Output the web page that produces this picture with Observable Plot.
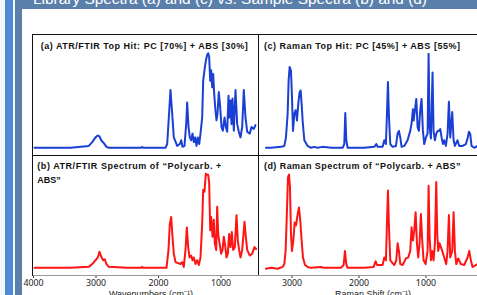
<!DOCTYPE html>
<html>
<head>
<meta charset="utf-8">
<script src="https://cdn.jsdelivr.net/npm/d3@7"></script>
<script src="https://cdn.jsdelivr.net/npm/@observablehq/plot@0.6"></script>
<style>
  html, body { margin:0; padding:0; background:#fff; }
  #wrap { position:relative; width:477px; height:295px; overflow:hidden; background:#f3f6fb; font-family:"Liberation Sans", Arial, Helvetica, sans-serif; }
  .abs { position:absolute; }
  svg { position:absolute; overflow:visible; }
</style>
</head>
<body>
<div id="wrap"></div>
<script>
// ---- data: [wavenumber (cm-1), relative intensity] ----
const ftirTopHit = [[3984,0],[3675,0],[3408,0],[3115,0.02],[3061,0.06],[3008,0.11],[2971,0.13],[2944,0.12],[2917,0.08],[2875,0.05],[2832,0.01],[2795,0],[2501,0],[2277,0],[2261,0.01],[2245,0],[1888,0],[1861,0.04],[1835,0.32],[1808,0.61],[1781,0.36],[1755,0.11],[1701,0.02],[1659,0.04],[1637,0.08],[1616,0.01],[1584,0.02],[1557,0.25],[1541,0.48],[1520,0.22],[1499,0.11],[1477,0.08],[1456,0.15],[1435,0.06],[1413,0.11],[1392,0.02],[1371,0.11],[1349,0.04],[1328,0.15],[1301,0.32],[1285,0.71],[1264,0.82],[1243,0.92],[1221,0.98],[1205,1.0],[1189,0.96],[1173,0.71],[1157,0.82],[1141,0.64],[1125,0.78],[1109,0.57],[1088,0.39],[1072,0.29],[1056,0.36],[1035,0.59],[1013,0.43],[992,0.22],[971,0.18],[944,0.32],[923,0.22],[901,0.17],[880,0.55],[864,0.32],[848,0.50],[832,0.25],[816,0.52],[795,0.18],[768,0.61],[741,0.25],[715,0.17],[688,0.11],[661,0.22],[635,0.61],[608,0.32],[581,0.17],[539,0.15],[512,0.22],[475,0.20],[448,0.24]];
const ftirSample = [[3984,0],[3675,0],[3408,0],[3115,0.01],[3061,0.04],[3008,0.08],[2971,0.11],[2944,0.17],[2917,0.12],[2885,0.08],[2859,0.09],[2832,0.04],[2795,0.01],[2501,0],[2277,0],[2261,0.01],[2245,0],[1872,0],[1840,0.19],[1819,0.47],[1797,0.54],[1776,0.33],[1755,0.15],[1728,0.06],[1648,0.04],[1621,0.06],[1595,0.01],[1568,0.19],[1547,0.43],[1525,0.22],[1504,0.11],[1477,0.13],[1456,0.08],[1435,0.11],[1408,0.04],[1381,0.08],[1355,0.03],[1328,0.11],[1301,0.47],[1285,0.83],[1264,0.81],[1243,1.0],[1221,0.99],[1205,0.99],[1189,0.9],[1173,0.4],[1157,0.54],[1136,0.33],[1115,0.51],[1099,0.26],[1077,0.19],[1061,0.65],[1045,0.36],[1024,0.26],[997,0.15],[976,0.19],[955,0.33],[934,0.24],[912,0.11],[891,0.15],[870,0.36],[848,0.22],[827,0.38],[806,0.19],[779,0.22],[752,0.56],[731,0.29],[710,0.19],[688,0.11],[661,0.19],[624,0.49],[603,0.33],[581,0.19],[539,0.13],[501,0.15],[464,0.22],[437,0.2]];
const ramanTopHit = [[3388,0],[3313,0],[3164,0.01],[3115,0.02],[3090,0.11],[3065,0.36],[3050,0.72],[3035,0.86],[3015,0.82],[3000,0.54],[2985,0.18],[2965,0.36],[2945,0.40],[2925,0.29],[2906,0.47],[2886,0.59],[2871,0.61],[2856,0.47],[2841,0.29],[2816,0.08],[2766,0.02],[2717,0],[2667,0.01],[2617,0],[2542,0.01],[2418,0],[2244,0],[2219,0.04],[2204,0.37],[2189,0.08],[2169,0],[1920,0],[1771,0.01],[1741,0.04],[1721,0.01],[1647,0.01],[1622,0.08],[1597,0.04],[1582,0.36],[1567,0.70],[1552,0.33],[1532,0.04],[1498,0.01],[1448,0.02],[1423,0.15],[1403,0.18],[1383,0.11],[1363,0.01],[1323,0.02],[1274,0.08],[1234,0.18],[1214,0.26],[1194,0.41],[1184,0.29],[1164,0.40],[1144,0.52],[1124,0.22],[1105,0.18],[1085,0.40],[1065,0.52],[1045,0.18],[1025,0.04],[1000,0.11],[975,0.15],[960,1.0],[945,0.22],[925,0.10],[901,0.80],[886,0.18],[866,0.08],[846,0.15],[826,0.18],[806,0.18],[786,0.20],[766,0.11],[746,0.04],[727,0.08],[702,0.02],[677,0.15],[657,0.49],[637,0.11],[607,0.38],[587,0.08],[567,0.02],[528,0.08],[503,0.02],[453,0.02],[403,0.04],[378,0.10],[358,0.17],[339,0.15],[319,0.02],[279,0],[229,0.02]];
const ramanSample = [[3388,0],[3313,0.01],[3214,0],[3139,0.02],[3115,0.05],[3095,0.19],[3075,0.62],[3060,0.97],[3045,1.0],[3030,0.87],[3015,0.37],[3000,0.19],[2980,0.30],[2960,0.49],[2940,0.46],[2915,0.58],[2896,0.65],[2876,0.51],[2856,0.30],[2836,0.12],[2806,0.04],[2766,0.02],[2717,0.01],[2567,0.02],[2517,0.01],[2269,0.01],[2229,0.04],[2209,0.19],[2189,0.05],[2169,0.01],[1920,0.01],[1781,0.02],[1751,0.08],[1731,0.04],[1647,0.04],[1622,0.12],[1597,0.09],[1582,0.48],[1567,0.83],[1552,0.44],[1532,0.09],[1473,0.04],[1443,0.09],[1423,0.27],[1403,0.19],[1383,0.05],[1348,0.04],[1299,0.11],[1264,0.12],[1234,0.19],[1214,0.44],[1194,0.30],[1174,0.41],[1154,0.60],[1134,0.27],[1115,0.12],[1095,0.27],[1075,0.58],[1055,0.30],[1035,0.09],[1005,0.05],[975,0.19],[960,0.88],[945,0.34],[925,0.09],[906,0.19],[886,0.09],[866,0.27],[846,0.92],[831,0.37],[816,0.19],[796,0.27],[776,0.23],[756,0.19],[727,0.12],[697,0.05],[677,0.19],[657,0.57],[637,0.12],[607,0.19],[587,0.60],[567,0.19],[547,0.05],[518,0.11],[478,0.05],[428,0.04],[378,0.12],[353,0.19],[329,0.09],[304,0.02],[254,0.04],[229,0.05]];

const ftirTicks = [4000, 3000, 2000, 1000];
const ramanTicks = [3000, 2000, 1000];
const titles = [
  { text: "(a) ATR/FTIR Top Hit: PC [70%] + ABS [30%]", x: 40.7, y: 48.8, w: 207 },
  { text: "(c) Raman Top Hit: PC [45%] + ABS [55%]", x: 264, y: 48.8, w: 196 },
  { text: "(b) ATR/FTIR Spectrum of \u201cPolycarb. +", x: 37.3, y: 169, w: 184 },
  { text: "ABS\u201d", x: 37.3, y: 183.3, w: 0 },
  { text: "(d) Raman Spectrum of \u201cPolycarb. + ABS\u201d", x: 264, y: 169, w: 196.5 }
];
const bannerText = "Library Spectra (a) and (c) vs. Sample Spectra (b) and (d)";
const xLabels = [
  { text: "Wavenumbers (cm\u207B\u00B9)", x: 151, y: 297 },
  { text: "Raman Shift (cm\u207B\u00B9)", x: 373, y: 297 }
];

const BLUE = "#1a3fd4", RED = "#ff1414";
const wrap = document.getElementById("wrap");
const NS = "http://www.w3.org/2000/svg";

function box(l, t, w, h, bg) {
  const d = document.createElement("div");
  d.className = "abs";
  Object.assign(d.style, { left: l + "px", top: t + "px", width: w + "px", height: h + "px", background: bg });
  wrap.appendChild(d);
  return d;
}
// slide background
box(5, 0, 8, 295, "#4f8ad5");
box(15, 0, 462, 9, "#5b7fab");
box(15, 0, 7, 295, "#5b7fab");
box(22, 9, 455, 286, "#ffffff");

function spectrum(data, opts) {
  const p = Plot.plot({
    width: opts.width, height: opts.height,
    marginLeft: 0, marginRight: 0, marginTop: 0, marginBottom: opts.axis ? 20 : 0,
    x: { domain: opts.xdomain, range: opts.xrange, axis: null },
    y: { domain: [0, 1], range: opts.yrange, axis: null },
    style: { background: "transparent", overflow: "visible" },
    marks: [
      Plot.line(data, { x: d => d[0], y: d => d[1], stroke: opts.color, strokeWidth: 2, strokeLinejoin: "round" }),
      opts.axis ? Plot.axisX({ ticks: opts.ticks, tickSize: 3, tickPadding: 1.5, fontSize: 8.8, tickFormat: d => String(d), stroke: "#333", fill: "#222" }) : null
    ]
  });
  p.style.left = opts.left + "px";
  p.style.top = opts.top + "px";
  wrap.appendChild(p);
}

spectrum(ftirTopHit, { left: 32, top: 34, width: 227, height: 121, xdomain: [4000, 400], xrange: [1, 226], yrange: [113.3, 18.7], color: BLUE });
spectrum(ramanTopHit, { left: 258, top: 34, width: 222, height: 121, xdomain: [3500, 200], xrange: [0, 221], yrange: [113.3, 19.3], color: BLUE });
spectrum(ftirSample, { left: 32, top: 155, width: 227, height: 140, xdomain: [4000, 400], xrange: [1, 226], yrange: [112.3, 18.3], color: RED, axis: true, ticks: ftirTicks });
spectrum(ramanSample, { left: 258, top: 155, width: 222, height: 140, xdomain: [3500, 200], xrange: [0, 221], yrange: [113.3, 19], color: RED, axis: true, ticks: ramanTicks });

// frame lines
box(32, 34, 445, 1, "#111");     // top
box(32, 155, 445, 1, "#111");    // middle
box(32, 34, 1, 242, "#111");     // left
box(258, 34, 1, 242, "#111");    // divider
box(33, 274.5, 444, 1.5, "#9a9a9a"); // bottom axis line

// text overlay
const ov = document.createElementNS(NS, "svg");
ov.setAttribute("width", 477); ov.setAttribute("height", 295);
ov.style.left = "0px"; ov.style.top = "0px"; ov.style.overflow = "hidden";
ov.setAttribute("font-family", "Liberation Sans, Arial, Helvetica, sans-serif");
wrap.appendChild(ov);
function addText(txt, x, y, attrs) {
  const t = document.createElementNS(NS, "text");
  t.setAttribute("x", x); t.setAttribute("y", y);
  for (const k in attrs) t.setAttribute(k, attrs[k]);
  t.textContent = txt;
  ov.appendChild(t);
  return t;
}
// banner title, mostly cut off at the top edge
const bclip = document.createElementNS(NS, "clipPath");
bclip.setAttribute("id", "bclip");
const br = document.createElementNS(NS, "rect");
br.setAttribute("x", 15); br.setAttribute("y", 0); br.setAttribute("width", 462); br.setAttribute("height", 8.5);
bclip.appendChild(br); ov.appendChild(bclip);
addText(bannerText, 33, 3.5, { fill: "#fff", "font-size": 15, textLength: 394, lengthAdjust: "spacingAndGlyphs", "clip-path": "url(#bclip)" });

for (const t of titles) {
  const a = { fill: "#111", "font-size": 9, "font-weight": "bold" };
  if (t.w) { a.textLength = t.w; a.lengthAdjust = "spacing"; }
  addText(t.text, t.x, t.y, a);
}
for (const l of xLabels) addText(l.text, l.x, l.y, { fill: "#222", "font-size": 9, "text-anchor": "middle" });
</script>
</body>
</html>
